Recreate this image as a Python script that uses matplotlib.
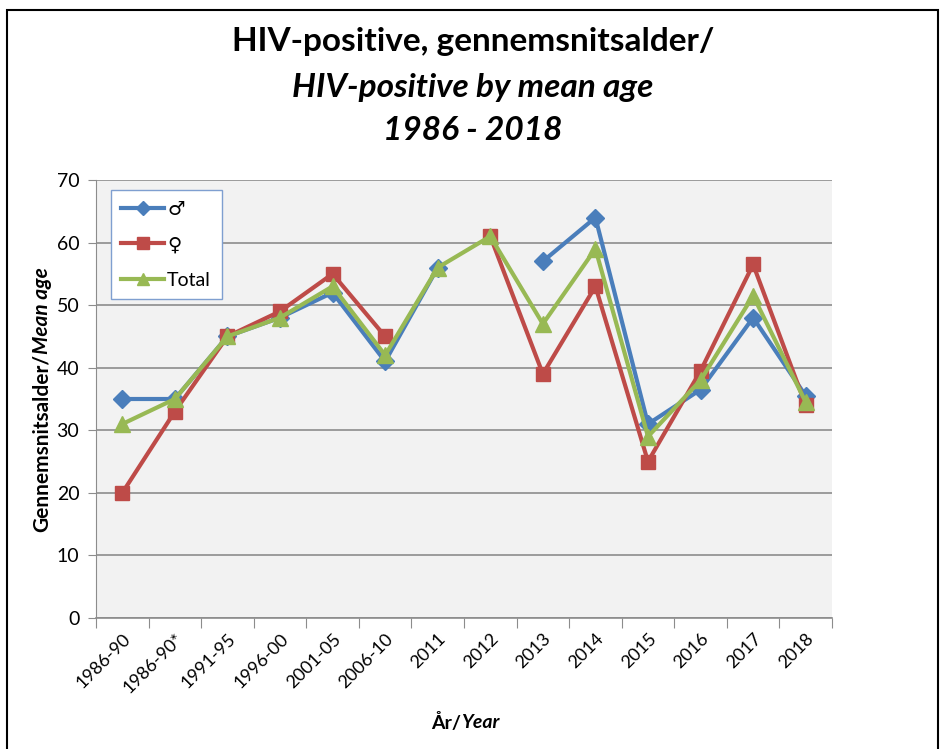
import matplotlib
matplotlib.use("Agg")
import matplotlib.pyplot as plt
import matplotlib.patches as mpatches
import numpy as np

categories = ["1986-90", "1986-90*", "1991-95", "1996-00", "2001-05", "2006-10",
              "2011", "2012", "2013", "2014", "2015", "2016", "2017", "2018"]
male = [35, 35, 45, 48, 52, 41, 56, None, 57, 64, 31, 36.5, 48, 35.5]
female = [20, 33, 45, 49, 55, 45, None, 61, 39, 53, 25, 39.5, 56.5, 34]
total = [31, 35, 45, 48, 53, 42, 56, 61, 47, 59, 29, 38, 51.5, 34.5]
series_labels = ["\u2642", "\u2640", "Total"]
yticks = [0, 10, 20, 30, 40, 50, 60, 70]

FONT = ["Lato", "DejaVu Sans"]
plt.rcParams['font.family'] = FONT

fig = plt.figure(figsize=(9.46, 7.49), dpi=100)
ax = fig.add_axes([96/946, 1-618/749, (832-96)/946, (618-180)/749])
ax.set_facecolor("#f2f2f2")

x = np.arange(len(categories))
def arr(v):
    return np.array([np.nan if a is None else a for a in v], dtype=float)

ax.plot(x, arr(male), color="#4a7ebb", lw=3, marker="D", ms=9.5,
        label=series_labels[0], zorder=3)
ax.plot(x, arr(female), color="#be4b48", lw=3, marker="s", ms=10.5,
        label=series_labels[1], zorder=4)
ax.plot(x, arr(total), color="#98b954", lw=3, marker="^", ms=11,
        label=series_labels[2], zorder=5)

ax.set_ylim(0, 70)
ax.set_xlim(-0.5, len(categories) - 0.5)
ax.set_yticks(yticks)
ax.yaxis.grid(True, color="#8c8c8c", lw=1.2)
ax.set_axisbelow(True)
for s in ["top", "right"]:
    ax.spines[s].set_visible(False)
ax.spines["left"].set_color("#8c8c8c")
ax.spines["bottom"].set_color("#8c8c8c")
ax.spines["bottom"].set_linewidth(1.2)

ax.set_xticks(np.arange(-0.5, len(categories), 1.0))
ax.set_xticklabels([])
ax.set_xticks(x, minor=True)
ax.set_xticklabels(categories, minor=True, rotation=45, ha="right",
                   rotation_mode="anchor", fontsize=13)
ax.tick_params(axis="x", which="major", length=7, color="#8c8c8c")
ax.tick_params(axis="x", which="minor", length=0, pad=9)
ax.tick_params(axis="y", length=6, color="#8c8c8c", labelsize=14, pad=6)

leg = ax.legend(loc="upper left", bbox_to_anchor=(0.02, 0.977), fontsize=14,
                frameon=True, fancybox=False, handlelength=2.2,
                labelspacing=0.95, borderpad=0.55, handletextpad=0.15,
                borderaxespad=0.0, markerscale=0.8)
leg.get_frame().set_edgecolor("#7f9fd0")
leg.get_frame().set_linewidth(1.0)
leg.get_frame().set_facecolor("white")
leg.get_frame().set_alpha(1)

# Titles
fig.text(0.5, 1 - 42/749, "HIV-positive, gennemsnitsalder/", ha="center",
         va="center", fontsize=24, fontweight="bold")
fig.text(0.5, 1 - 88/749, "HIV-positive by mean age", ha="center",
         va="center", fontsize=24, fontweight="bold", style="italic")
fig.text(0.5, 1 - 130/749, "1986 - 2018", ha="center",
         va="center", fontsize=24, fontweight="bold", style="italic")

renderer = fig.canvas.get_renderer()

# x-label: mixed style
xl_y = 1 - 723/749
t1 = fig.text(0, xl_y, "År/", fontsize=14, fontweight="bold", va="center")
t2 = fig.text(0, xl_y, "Year", fontsize=14, fontweight="bold", style="italic", va="center")
w1 = t1.get_window_extent(renderer).width
w2 = t2.get_window_extent(renderer).width
cx = 465
t1.set_x((cx - (w1 + w2)/2) / 946)
t2.set_x((cx - (w1 + w2)/2 + w1) / 946)

# y-label: mixed style rotated
yl_x = 42/946
s1 = fig.text(yl_x, 0, "Gennemsnitsalder/", fontsize=15, fontweight="bold",
              rotation=90, ha="center", va="bottom")
s2 = fig.text(yl_x, 0, "Mean age", fontsize=15, fontweight="bold",
              style="italic", rotation=90, ha="center", va="bottom")
h1 = s1.get_window_extent(renderer).height
h2 = s2.get_window_extent(renderer).height
cy = 749 - 400
s1.set_y((cy - (h1 + h2)/2) / 749)
s2.set_y((cy - (h1 + h2)/2 + h1) / 749)

# outer border
fig.patches.append(mpatches.Rectangle((7/946, -0.05), (938-7)/946, 1.05 - 10/749,
                                      transform=fig.transFigure, fill=False,
                                      edgecolor="black", lw=1.5))

fig.savefig("out.png", dpi=100, facecolor="white")
